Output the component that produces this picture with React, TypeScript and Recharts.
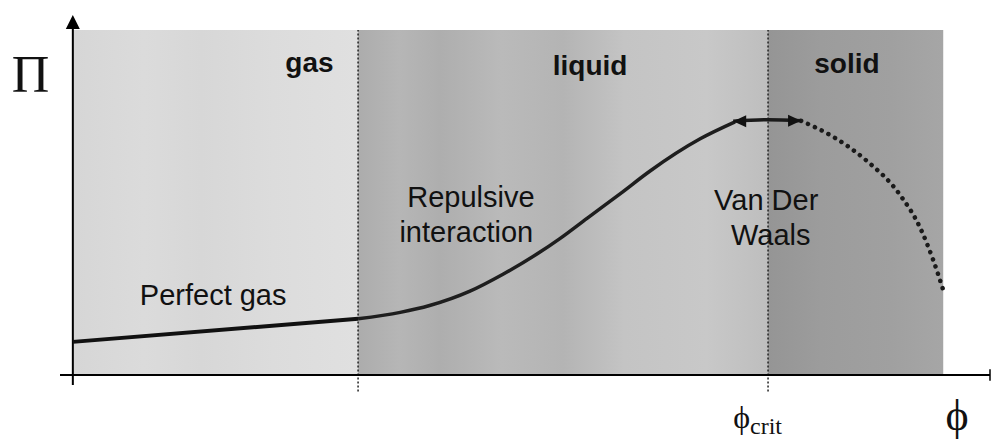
import { ComposedChart, Line, XAxis, YAxis, ReferenceArea, ReferenceLine, ReferenceDot } from 'recharts';

// state regions along phi
const regionNames = ['gas', 'liquid', 'solid'];
const regionEdges = [0, 31.1, 75.8, 94.9];
const regionTop = 95.8;

// perfect gas: straight part
const gasPhi = [0, 31.1];
const gasPi = [9.2, 15.6];

// repulsive part of the curve
const curvePhi = [31.1, 35.7, 38.9, 43.3, 46.9, 50.6, 53.1, 56.1, 59.7, 62.9, 68.4, 72.2];
const curvePi = [15.6, 17.4, 19.3, 23.3, 28.0, 33.6, 37.9, 43.6, 50.4, 56.6, 65.6, 70.3];

// double arrow around phi crit
const arrowPhi = [72.0, 75.8, 79.4];
const arrowPi = [70.5, 70.9, 70.6];

// dotted part in solid region
const dotPhi = [79.4, 83.0, 86.6, 90.2, 92.4, 93.8, 94.9];
const dotPi = [70.6, 66.0, 59.4, 50.0, 40.8, 32.0, 23.6];

const toRows = (xs: number[], ys: number[]) => xs.map((x, i) => ({ x, y: ys[i] }));
const gasData = toRows(gasPhi, gasPi);
const curveData = toRows(curvePhi, curvePi);
const arrowData = toRows(arrowPhi, arrowPi);
const dotData = toRows(dotPhi, dotPi);

const SANS = 'Liberation Sans, Arial, sans-serif';
const SERIF = 'Liberation Serif, DejaVu Serif, serif';

const textShape =
  (text: string, size: number, opts: { bold?: boolean; serif?: boolean; anchor?: string } = {}) =>
  (p: any) => (
    <text
      x={p.cx}
      y={p.cy}
      fontSize={size}
      fontWeight={opts.bold ? 'bold' : 'normal'}
      fontFamily={opts.serif ? SERIF : SANS}
      textAnchor={opts.anchor || 'middle'}
      fill="#111"
    >
      {text}
    </text>
  );

const arrowDot = (p: any) => {
  const { cx, cy, index } = p;
  if (index === 0) {
    return <polygon key="a0" points={`${cx},${cy} ${cx + 13},${cy - 6} ${cx + 13},${cy + 6}`} fill="#111" />;
  }
  if (index === arrowData.length - 1) {
    return <polygon key="a1" points={`${cx},${cy} ${cx - 13},${cy - 6} ${cx - 13},${cy + 6}`} fill="#111" />;
  }
  return <g key={'a' + index} />;
};

const fills = ['url(#gasFill)', 'url(#liqFill)', 'url(#solFill)'];

const App = () => {
  return (
    <div style={{ position: 'absolute', left: 0, top: 0, background: '#fff' }}>
      <ComposedChart width={991} height={441} margin={{ top: 15, right: 1, bottom: 48, left: 60 }}>
        <defs>
          <linearGradient id="gasFill" x1="0" y1="0" x2="1" y2="0">
            <stop offset="0" stopColor="#d6d6d6" />
            <stop offset="0.25" stopColor="#dbdbdb" />
            <stop offset="0.45" stopColor="#d7d7d7" />
            <stop offset="0.7" stopColor="#dcdcdc" />
            <stop offset="1" stopColor="#e0e0e0" />
          </linearGradient>
          <linearGradient id="liqFill" x1="0" y1="0" x2="1" y2="0">
            <stop offset="0" stopColor="#acacac" />
            <stop offset="0.1" stopColor="#b6b6b6" />
            <stop offset="0.2" stopColor="#aeaeae" />
            <stop offset="0.35" stopColor="#bababa" />
            <stop offset="0.5" stopColor="#b4b4b4" />
            <stop offset="0.65" stopColor="#c4c4c4" />
            <stop offset="0.85" stopColor="#c8c8c8" />
            <stop offset="1" stopColor="#bebebe" />
          </linearGradient>
          <linearGradient id="solFill" x1="0" y1="0" x2="1" y2="0">
            <stop offset="0" stopColor="#959595" />
            <stop offset="0.3" stopColor="#9c9c9c" />
            <stop offset="0.7" stopColor="#a0a0a0" />
            <stop offset="1" stopColor="#a6a6a6" />
          </linearGradient>
        </defs>
        <XAxis type="number" dataKey="x" domain={[-1.4, 100]} allowDataOverflow hide />
        <YAxis type="number" dataKey="y" domain={[-5, 100]} allowDataOverflow hide />

        {regionNames.map((name, i) => (
          <ReferenceArea
            key={name}
            x1={regionEdges[i]}
            x2={regionEdges[i + 1]}
            y1={0}
            y2={regionTop}
            fill={fills[i]}
            fillOpacity={1}
            stroke="none"
            ifOverflow="visible"
          />
        ))}

        {[regionEdges[1], regionEdges[2]].map((e) => (
          <ReferenceLine
            key={'b' + e}
            segment={[{ x: e, y: -4.6 }, { x: e, y: regionTop }]}
            stroke="#222"
            strokeWidth={1.5}
            strokeDasharray="2 2"
            ifOverflow="visible"
          />
        ))}

        {/* axes */}
        <ReferenceLine segment={[{ x: -1.4, y: 0 }, { x: 100, y: 0 }]} stroke="#000" strokeWidth={2} ifOverflow="visible" />
        <ReferenceLine segment={[{ x: 0, y: -2.8 }, { x: 0, y: 97 }]} stroke="#000" strokeWidth={2} ifOverflow="visible" />
        <ReferenceLine segment={[{ x: 100, y: -1.6 }, { x: 100, y: 1.6 }]} stroke="#000" strokeWidth={1.5} ifOverflow="visible" />
        <ReferenceDot
          x={0}
          y={100}
          r={0}
          ifOverflow="visible"
          shape={(p: any) => (
            <polygon points={`${p.cx},${p.cy} ${p.cx - 7},${p.cy + 14} ${p.cx + 7},${p.cy + 14}`} fill="#000" />
          )}
        />

        <Line
          data={gasData}
          dataKey="y"
          type="linear"
          stroke="#111"
          strokeWidth={4}
          dot={false}
          isAnimationActive={false}
        />
        <Line
          data={curveData}
          dataKey="y"
          type="monotone"
          stroke="#1e1e1e"
          strokeWidth={3.5}
          dot={false}
          isAnimationActive={false}
        />
        <Line
          data={arrowData}
          dataKey="y"
          type="monotone"
          stroke="#1a1a1a"
          strokeWidth={3.5}
          dot={arrowDot}
          isAnimationActive={false}
        />
        <Line
          data={dotData}
          dataKey="y"
          type="monotone"
          stroke="#1a1a1a"
          strokeWidth={4.5}
          strokeLinecap="round"
          strokeDasharray="0.1 7.5"
          dot={false}
          isAnimationActive={false}
        />

        {/* region names */}
        <ReferenceDot x={25.8} y={84.2} r={0} ifOverflow="visible" shape={textShape('gas', 28, { bold: true })} />
        <ReferenceDot x={56.4} y={83.3} r={0} ifOverflow="visible" shape={textShape('liquid', 28, { bold: true })} />
        <ReferenceDot x={84.4} y={83.9} r={0} ifOverflow="visible" shape={textShape('solid', 28, { bold: true })} />

        {/* annotations */}
        <ReferenceDot x={15.3} y={19.4} r={0} ifOverflow="visible" shape={textShape('Perfect gas', 29)} />
        <ReferenceDot x={43.4} y={46.7} r={0} ifOverflow="visible" shape={textShape('Repulsive', 29)} />
        <ReferenceDot x={42.9} y={36.9} r={0} ifOverflow="visible" shape={textShape('interaction', 29)} />
        <ReferenceDot x={75.6} y={45.8} r={0} ifOverflow="visible" shape={textShape('Van Der', 29)} />
        <ReferenceDot x={76.1} y={36.1} r={0} ifOverflow="visible" shape={textShape('Waals', 29)} />

        {/* axis symbols */}
        <ReferenceDot x={-4.6} y={78.6} r={0} ifOverflow="visible" shape={textShape('Π', 52, { serif: true })} />
        <ReferenceDot x={96.4} y={-15.3} r={0} ifOverflow="visible" shape={textShape('ϕ', 44, { serif: true })} />
        <ReferenceDot
          x={72.0}
          y={-14.7}
          r={0}
          ifOverflow="visible"
          shape={(p: any) => (
            <text x={p.cx} y={p.cy} fontFamily={SERIF} fontSize={32} textAnchor="start" fill="#111">
              ϕ
              <tspan fontSize={24} dy={6}>
                crit
              </tspan>
            </text>
          )}
        />
      </ComposedChart>
    </div>
  );
};

export default App;
